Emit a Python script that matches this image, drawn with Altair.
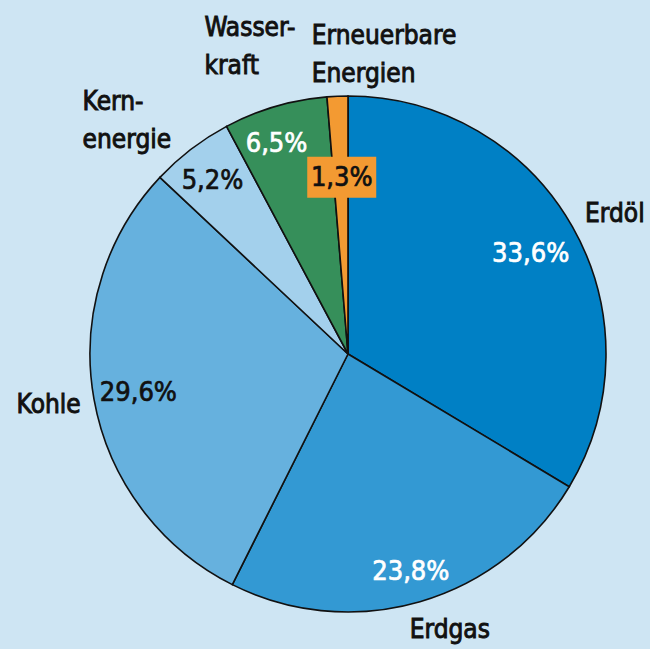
import math
import altair as alt
import pandas as pd

# ---- data ----
categories = ["Erdöl", "Erdgas", "Kohle", "Kernenergie", "Wasserkraft", "Erneuerbare Energien"]
label_text = ["Erdöl", "Erdgas", "Kohle", "Kern-\nenergie", "Wasser-\nkraft", "Erneuerbare\nEnergien"]
shares = [33.6, 23.8, 29.6, 5.2, 6.5, 1.3]
pct_text = ["33,6%", "23,8%", "29,6%", "5,2%", "6,5%", "1,3%"]
colors = ["#0080c5", "#3399d3", "#66b1de", "#a3d0ec", "#368f5a", "#f39a32"]
pct_colors = ["#ffffff", "#ffffff", "#111111", "#111111", "#ffffff", "#111111"]

df = pd.DataFrame({
    "category": categories,
    "label": label_text,
    "share": shares,
    "pct": pct_text,
})
df["order"] = range(len(df))
df["mid"] = df["share"].cumsum() - df["share"] / 2

# ---- layout ----
W, H = 600, 590
PAD_L, PAD_T = 48, 59
CX, CY = W / 2, H / 2
R_PIE = 258
FONT = "DejaVu Sans Condensed, sans-serif"
LH = 38

theta_scale = alt.Scale(domain=[0, 100])

arc = alt.Chart(df).mark_arc(
    outerRadius=R_PIE, stroke="#111111", strokeWidth=1.6
).encode(
    theta=alt.Theta("share:Q", stack=True, scale=theta_scale),
    color=alt.Color("category:N", scale=alt.Scale(domain=categories, range=colors), legend=None),
    order=alt.Order("order:Q"),
)

# outer label placement: (radius, dx, dy, align)
label_place = {
    "Erdöl": (300, -24, 8, "left"),
    "Erdgas": (300, -22, -12, "left"),
    "Kohle": (300, -4, -2, "center"),
    "Kernenergie": (300, -83, 5 - 19, "left"),
    "Wasserkraft": (300, -59, -18 - 20, "left"),
    "Erneuerbare Energien": (300, -24, 2 - 20, "left"),
}
# percentage label placement: (radius, dx, dy)
pct_place = {
    "Erdöl": (218, -7, 7),
    "Erdgas": (218, 2, 9),
    "Kohle": (218, 5, 1),
    "Kernenergie": (218, -3, 0),
    "Wasserkraft": (218, -10, -1),
    "Erneuerbare Energien": (178, 1, 2),
}

layers = [arc]

# orange box behind the 1,3% label
small = "Erneuerbare Energien"
m = float(df.loc[df.category == small, "mid"].iloc[0])
ang = 2 * math.pi * m / 100
rb = pct_place[small][0]
bx = CX + rb * math.sin(ang) + 1
by = CY - rb * math.cos(ang) + 1
box = alt.Chart(df).transform_filter(alt.datum.category == small).mark_rect(
    color=colors[-1]
).encode(
    x=alt.value(bx - 34.5), x2=alt.value(bx + 34.5),
    y=alt.value(by - 20.5), y2=alt.value(by + 20.5),
)
layers.append(box)

for i, cat in enumerate(categories):
    r, dx, dy, al = label_place[cat]
    layers.append(
        alt.Chart(df).transform_filter(alt.datum.category == cat).mark_text(
            radius=r, dx=dx, dy=dy, align=al, baseline="middle",
            font=FONT, fontSize=26, lineBreak="\n", lineHeight=LH,
            color="#111111", stroke="#111111", strokeWidth=0.9,
        ).encode(
            theta=alt.Theta("mid:Q", stack=False, scale=theta_scale),
            text="label:N",
        )
    )
    r, dx, dy = pct_place[cat]
    layers.append(
        alt.Chart(df).transform_filter(alt.datum.category == cat).mark_text(
            radius=r, dx=dx, dy=dy, align="center", baseline="middle",
            font=FONT, fontSize=27, color=pct_colors[i],
            stroke=pct_colors[i], strokeWidth=0.7,
        ).encode(
            theta=alt.Theta("mid:Q", stack=False, scale=theta_scale),
            text="pct:N",
        )
    )

chart = alt.layer(*layers).properties(
    width=W, height=H,
    autosize=alt.AutoSizeParams(type="none"),
    padding={"left": PAD_L, "top": PAD_T, "right": 650 - PAD_L - W, "bottom": 649 - PAD_T - H},
    background="#cee5f3",
).configure_view(strokeWidth=0)

chart.save("out.html", embed_options={"renderer": "svg", "actions": False})
